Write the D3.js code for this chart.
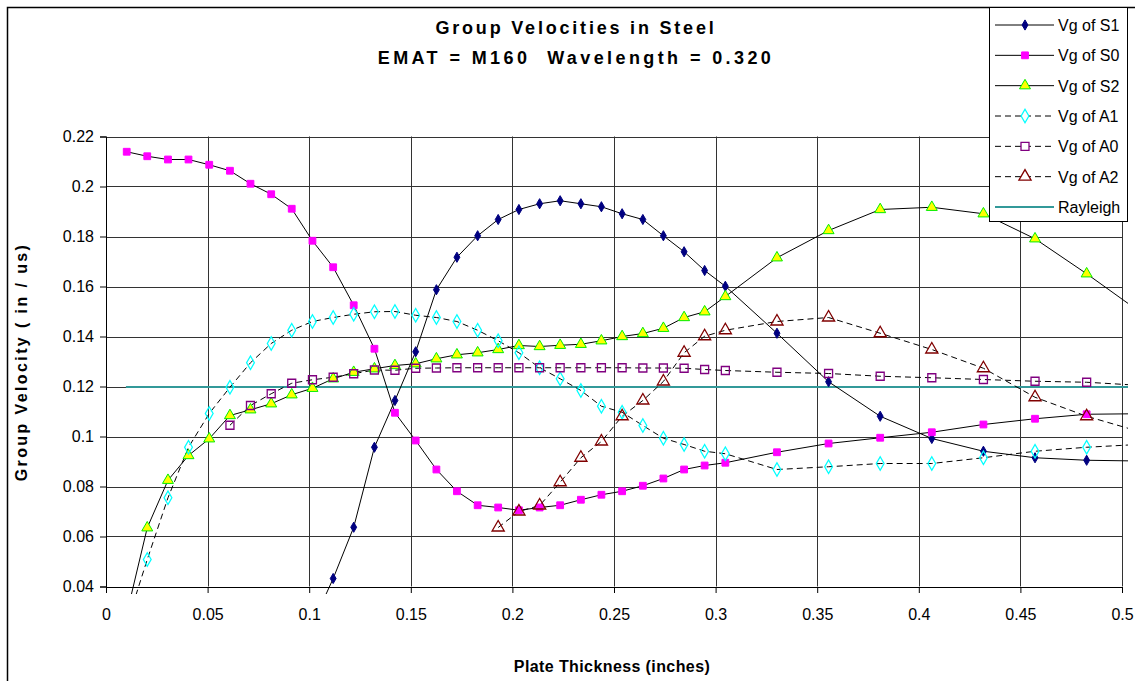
<!DOCTYPE html>
<html lang="en">
<head>
<meta charset="UTF-8">
<title>Group Velocities in Steel</title>
<script src="https://cdn.jsdelivr.net/npm/d3@7"></script>
<style>
  body { margin: 0; background: #fff; }
  text { font-family: Arial, "Liberation Sans", sans-serif; fill: #000; }
</style>
</head>
<body>
<svg id="chart" width="1135" height="681"></svg>
<script>
// plate thickness (inches)
var thickness = [0.0102, 0.0203, 0.0305, 0.0406, 0.0508, 0.0610, 0.0711, 0.0813, 0.0914, 0.1016,
                 0.1118, 0.1219, 0.1321, 0.1422, 0.1524, 0.1626, 0.1727, 0.1829, 0.1930, 0.2032,
                 0.2134, 0.2235, 0.2337, 0.2438, 0.2540, 0.2642, 0.2743, 0.2845, 0.2946, 0.3048,
                 0.3302, 0.3556, 0.3810, 0.4064, 0.4318, 0.4572, 0.4826, 0.5080];

// group velocities (in/us), one value per thickness, null = no point
var vgS1 = [null, null, null, null, null, null, null, null, null, 0.025,
            0.0432, 0.0637, 0.0957, 0.1144, 0.1339, 0.1587, 0.1717, 0.1803, 0.1868, 0.1908,
            0.1931, 0.1943, 0.1931, 0.1919, 0.1891, 0.1868, 0.1803, 0.1739, 0.1664, 0.1601,
            0.1413, 0.1219, 0.1081, 0.0992, 0.0941, 0.0915, 0.0905, 0.0902];
var vgS0 = [0.2139, 0.2121, 0.2108, 0.2108, 0.2087, 0.2063, 0.2011, 0.1969, 0.1911, 0.1783,
            0.1677, 0.1525, 0.1351, 0.1095, 0.0984, 0.0868, 0.0781, 0.0725, 0.0716, 0.0705,
            0.0716, 0.0725, 0.0747, 0.0767, 0.0781, 0.0803, 0.0832, 0.0868, 0.0884, 0.0895,
            0.0937, 0.0972, 0.0995, 0.1017, 0.1048, 0.1071, 0.1089, 0.1091];
var vgS2 = [0.029, 0.0635, 0.0825, 0.0924, 0.0991, 0.1084, 0.1107, 0.1131, 0.1167, 0.1193,
            0.1231, 0.1257, 0.1271, 0.1284, 0.1291, 0.1311, 0.1327, 0.1335, 0.1348, 0.1364,
            0.1360, 0.1365, 0.1369, 0.1383, 0.1400, 0.1412, 0.1433, 0.1476, 0.1499, 0.1560,
            0.1715, 0.1824, 0.1908, 0.1917, 0.1891, 0.1791, 0.1651, 0.1503];
var vgA1 = [0.025, 0.0508, 0.0755, 0.0957, 0.1092, 0.1197, 0.1295, 0.1372, 0.1425, 0.1460,
            0.1476, 0.1489, 0.1499, 0.1500, 0.1485, 0.1476, 0.1460, 0.1425, 0.1383, 0.1335,
            0.1275, 0.1231, 0.1184, 0.1121, 0.1097, 0.1044, 0.0993, 0.0968, 0.0941, 0.0931,
            0.0868, 0.0879, 0.0892, 0.0892, 0.0915, 0.0941, 0.0957, 0.0968];
var vgA0 = [null, null, null, null, null, 0.1045, 0.1124, 0.1171, 0.1213, 0.1227,
            0.1237, 0.1251, 0.1266, 0.1265, 0.1273, 0.1274, 0.1275, 0.1275, 0.1275, 0.1275,
            0.1275, 0.1275, 0.1275, 0.1275, 0.1275, 0.1274, 0.1274, 0.1273, 0.1268, 0.1264,
            0.1257, 0.1252, 0.1241, 0.1235, 0.1228, 0.1221, 0.1217, 0.1205];
var vgA2 = [null, null, null, null, null, null, null, null, null, null,
            null, null, null, null, null, null, null, null, 0.0636, 0.0700,
            0.0724, 0.0817, 0.0915, 0.0980, 0.1081, 0.1144, 0.1220, 0.1335, 0.1401, 0.1425,
            0.1460, 0.1476, 0.1413, 0.1348, 0.1273, 0.1157, 0.1081, 0.1021];
var rayleighX = [0.0098, 0.5080];
var rayleighV = [0.1198, 0.1198];

var xTicks = [0, 0.05, 0.1, 0.15, 0.2, 0.25, 0.3, 0.35, 0.4, 0.45, 0.5];
var yTicks = [0.04, 0.06, 0.08, 0.1, 0.12, 0.14, 0.16, 0.18, 0.2, 0.22];

var seriesNames = ["Vg of S1", "Vg of S0", "Vg of S2", "Vg of A1", "Vg of A0", "Vg of A2"];

// styles per series
var styles = [
    {values: vgS1, symbol: d3.symbolDiamond, size: 30, fill: "#000080", stroke: "#000080", dash: null},
    {values: vgS0, symbol: d3.symbolSquare, size: 46, fill: "#ff00ff", stroke: "#ff00ff", dash: null},
    {values: vgS2, symbol: d3.symbolTriangle, size: 52, fill: "#ffff00", stroke: "#00ee00", dash: null},
    {values: vgA1, symbol: d3.symbolDiamond, size: 52, fill: "none", stroke: "#00ffff", dash: "6,4"},
    {values: vgA0, symbol: d3.symbolSquare, size: 64, fill: "none", stroke: "#800080", dash: "6,4"},
    {values: vgA2, symbol: d3.symbolTriangle, size: 64, fill: "none", stroke: "#800000", dash: "6,4"}
];

var svg = d3.select("#chart");

var x = d3.scaleLinear().domain([0, 0.5]).range([106, 1122]);
var y = d3.scaleLinear().domain([0.04, 0.22]).range([586.5, 136.5]);

// outer frame (runs off the right / bottom of the picture)
svg.append("rect")
    .attr("x", 7.5).attr("y", 7.5)
    .attr("width", 1200).attr("height", 700)
    .attr("fill", "#fff")
    .attr("stroke", "#000")
    .attr("stroke-width", 1.5);

function px(v) { return Math.round(v) + 0.5; }

// grid
svg.append("g").selectAll("line")
    .data(yTicks).enter().append("line")
    .attr("x1", 106).attr("x2", x(0.5))
    .attr("y1", function (d) { return px(y(d)); })
    .attr("y2", function (d) { return px(y(d)); })
    .attr("stroke", "#333").attr("stroke-width", 1);
svg.append("g").selectAll("line")
    .data(xTicks).enter().append("line")
    .attr("x1", function (d) { return px(x(d)); })
    .attr("x2", function (d) { return px(x(d)); })
    .attr("y1", y(0.22)).attr("y2", y(0.04))
    .attr("stroke", "#333").attr("stroke-width", 1);

// axes
var yAxis = d3.axisLeft(y).tickValues(yTicks).tickSize(6).tickPadding(6)
    .tickFormat(function (d) { return String(+d.toFixed(2)); });
var xAxis = d3.axisBottom(x).tickValues(xTicks).tickSize(6).tickPadding(16)
    .tickFormat(function (d) { return String(+d.toFixed(2)); });

var gy = svg.append("g").attr("transform", "translate(" + (px(106) - 0.5) + ",0)").call(yAxis);
var gx = svg.append("g").attr("transform", "translate(0," + (px(y(0.04)) - 0.5) + ")").call(xAxis);
[gx, gy].forEach(function (g) {
    g.select(".domain").attr("stroke", "#000");
    g.selectAll(".tick line").attr("stroke", "#000");
    g.selectAll(".tick text").attr("font-size", 16).attr("font-family", "Arial, 'Liberation Sans', sans-serif");
});

// clip for series
svg.append("clipPath").attr("id", "plotClip")
    .append("rect").attr("x", 100).attr("y", 130).attr("width", 1028).attr("height", 464);

var plot = svg.append("g").attr("clip-path", "url(#plotClip)");

// Rayleigh line
plot.append("line")
    .attr("x1", x(rayleighX[0])).attr("x2", x(rayleighX[1]))
    .attr("y1", y(rayleighV[0])).attr("y2", y(rayleighV[1]))
    .attr("stroke", "#339999").attr("stroke-width", 2);

var line = d3.line()
    .defined(function (d) { return d.v !== null; })
    .x(function (d) { return x(d.t); })
    .y(function (d) { return y(d.v); });

styles.forEach(function (s) {
    var pts = thickness.map(function (t, i) { return {t: t, v: s.values[i]}; });
    plot.append("path")
        .datum(pts)
        .attr("d", line)
        .attr("fill", "none")
        .attr("stroke", "#000")
        .attr("stroke-width", 1)
        .attr("stroke-dasharray", s.dash);
});

styles.forEach(function (s) {
    var pts = thickness.map(function (t, i) { return {t: t, v: s.values[i]}; })
        .filter(function (d) { return d.v !== null && d.v >= 0.04 && d.t <= 0.5; });
    plot.append("g").selectAll("path")
        .data(pts).enter().append("path")
        .attr("transform", function (d) { return "translate(" + x(d.t) + "," + y(d.v) + ")"; })
        .attr("d", d3.symbol().type(s.symbol).size(s.size))
        .attr("fill", s.fill)
        .attr("stroke", s.stroke)
        .attr("stroke-width", s.fill === "none" ? 1.3 : 1);
});

// titles
var title = svg.append("text")
    .attr("text-anchor", "middle")
    .attr("font-size", 18).attr("font-weight", "bold");
title.append("tspan").attr("x", 576).attr("y", 34).attr("letter-spacing", 2.8)
    .text("Group Velocities in Steel");
title.append("tspan").attr("x", 576).attr("y", 64).attr("letter-spacing", 3.4)
    .attr("xml:space", "preserve")
    .text("EMAT = M160  Wavelength = 0.320");

svg.append("text")
    .attr("transform", "translate(27,362) rotate(-90)")
    .attr("text-anchor", "middle")
    .attr("font-size", 16).attr("font-weight", "bold")
    .attr("letter-spacing", 2.4)
    .text("Group Velocity ( in / us)");

svg.append("text")
    .attr("x", 612).attr("y", 672)
    .attr("text-anchor", "middle")
    .attr("font-size", 16).attr("font-weight", "bold")
    .attr("letter-spacing", 0.4)
    .text("Plate Thickness (inches)");

// legend
var legend = svg.append("g");
legend.append("rect")
    .attr("x", 989.5).attr("y", 7.5).attr("width", 138).attr("height", 214)
    .attr("fill", "#fff").attr("stroke", "#000").attr("stroke-width", 1);

var legendRows = seriesNames.concat(["Rayleigh"]);
var rowY = d3.scalePoint().domain(legendRows).range([25, 207]);

legendRows.forEach(function (name, i) {
    var ry = rowY(name);
    var g = legend.append("g");
    if (i < styles.length) {
        var s = styles[i];
        g.append("line")
            .attr("x1", 995).attr("x2", 1054).attr("y1", ry).attr("y2", ry)
            .attr("stroke", "#000").attr("stroke-width", 1)
            .attr("stroke-dasharray", s.dash);
        g.append("path")
            .attr("transform", "translate(1025," + ry + ")")
            .attr("d", d3.symbol().type(s.symbol).size(s.size))
            .attr("fill", s.fill === "none" ? "#fff" : s.fill)
            .attr("stroke", s.stroke)
            .attr("stroke-width", s.fill === "none" ? 1.3 : 1);
    } else {
        g.append("line")
            .attr("x1", 995).attr("x2", 1054).attr("y1", ry).attr("y2", ry)
            .attr("stroke", "#339999").attr("stroke-width", 2);
    }
    g.append("text")
        .attr("x", 1058).attr("y", ry + 6)
        .attr("font-size", 16)
        .text(name);
});
</script>
</body>
</html>
